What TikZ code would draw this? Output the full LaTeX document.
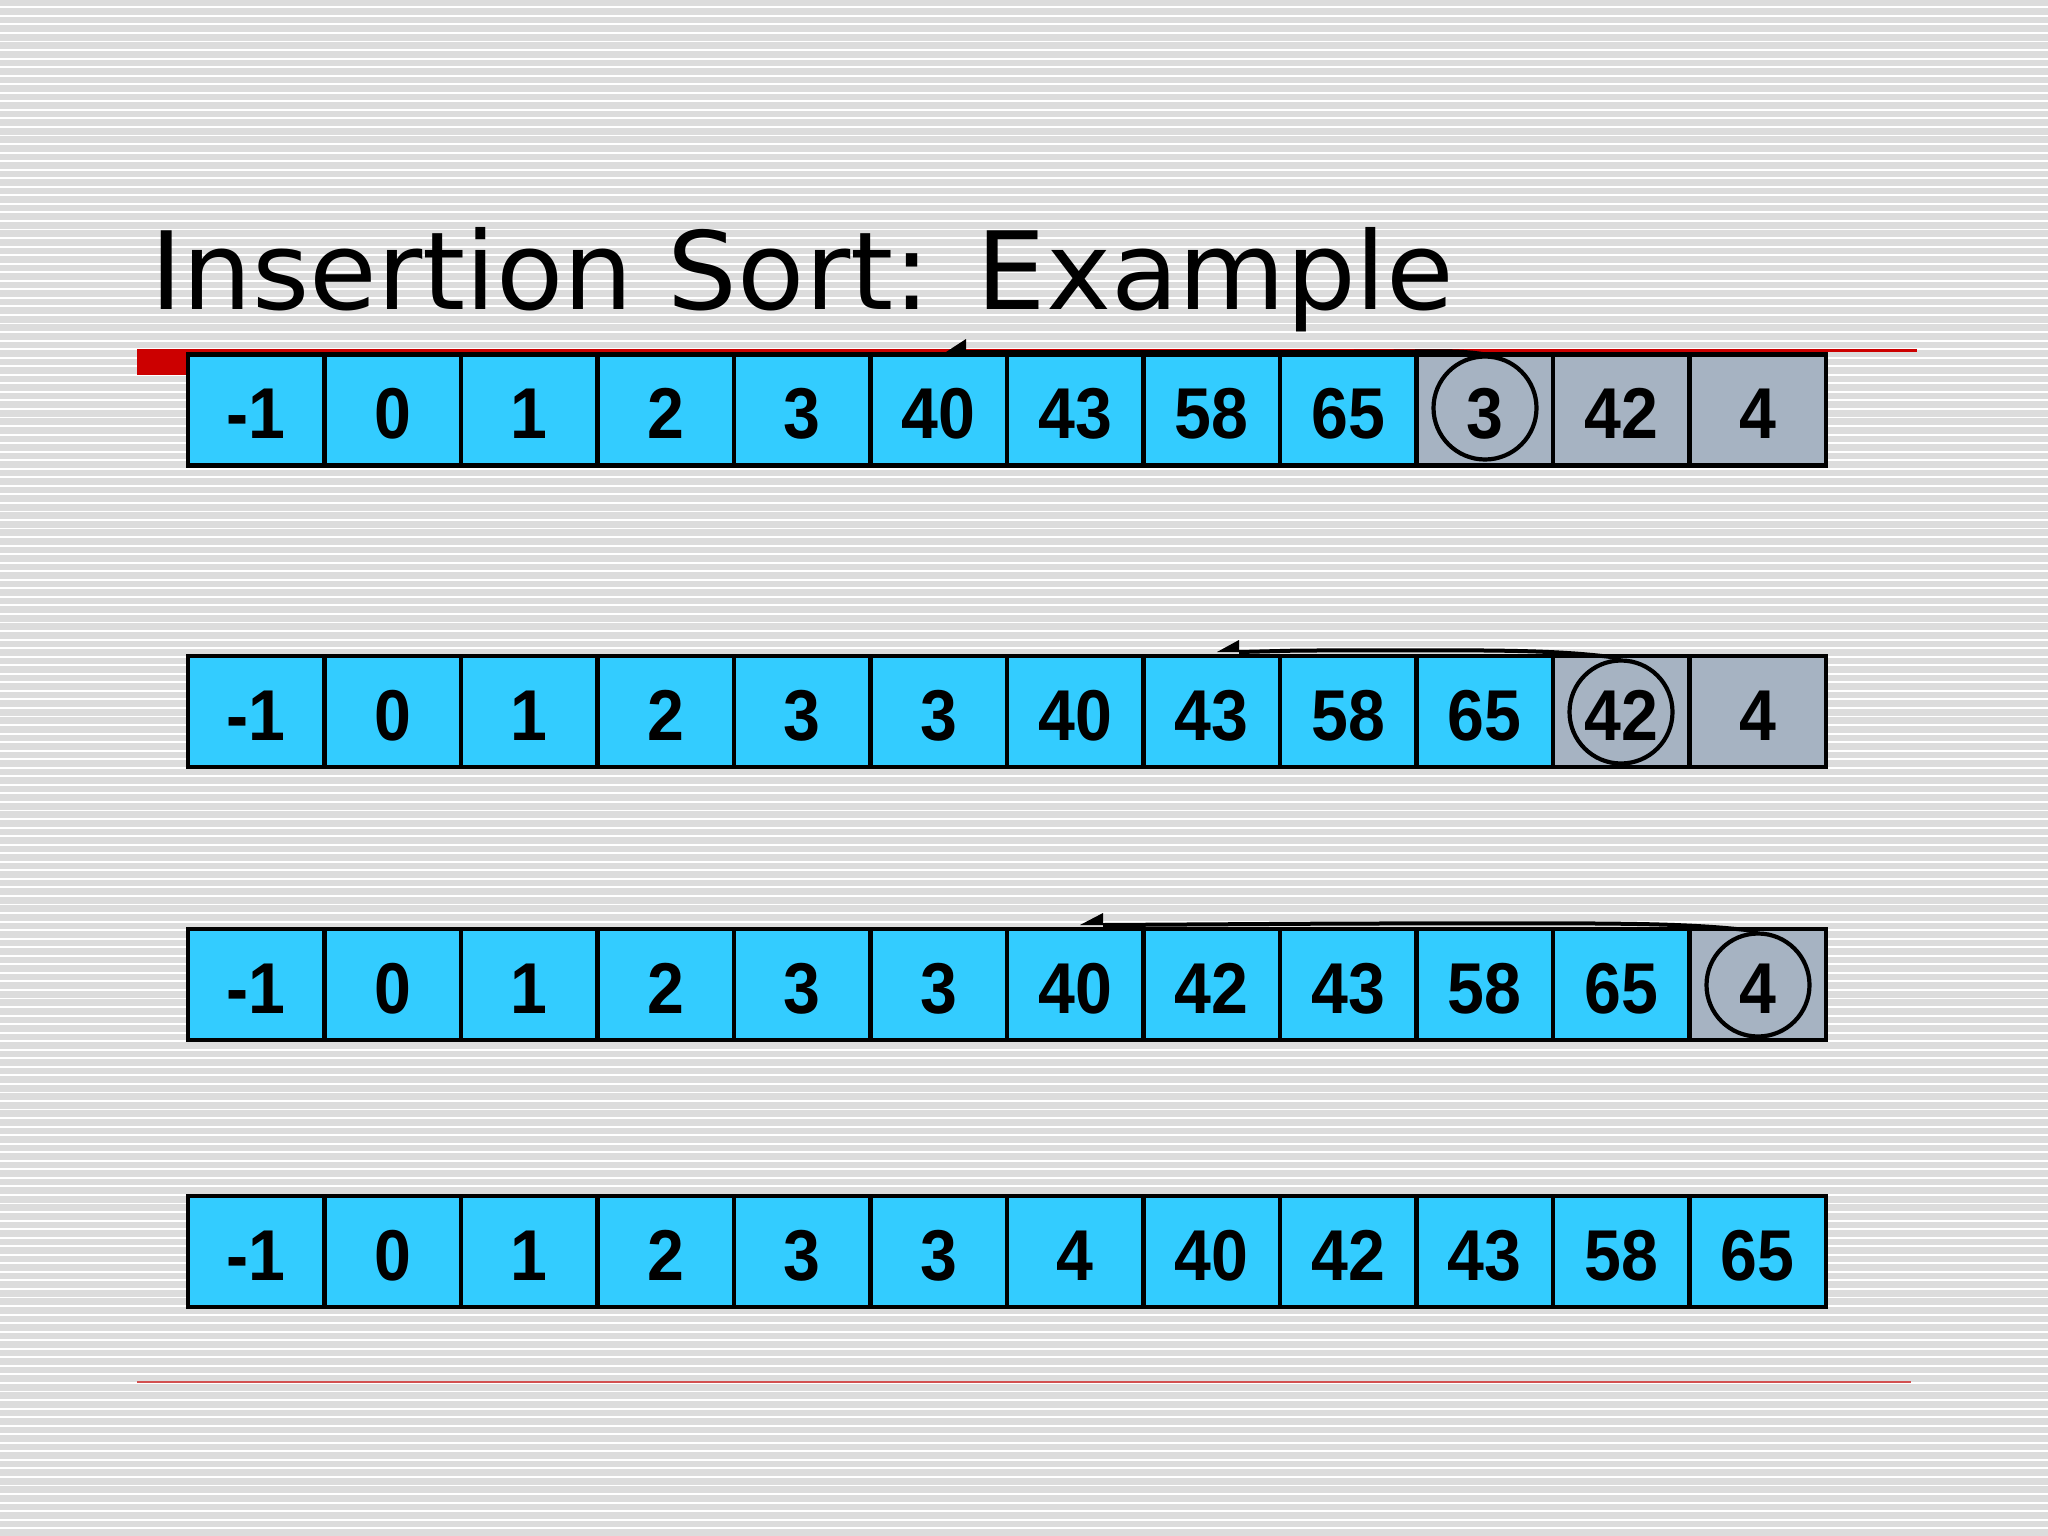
\documentclass[tikz,border=0pt]{standalone}
\usepackage{fontspec}
\setmainfont{Liberation Sans}
\newfontfamily\titlefont{DejaVu Sans}
\definecolor{bgstripe}{RGB}{220,220,220}
\definecolor{cyanfill}{RGB}{51,204,255}
\definecolor{grayfill}{RGB}{166,179,194}
\definecolor{slidered}{RGB}{204,0,0}
\definecolor{thinred}{RGB}{210,80,80}
\tikzset{
  cell/.style={draw=black, line width=4.5pt, minimum width=136.5pt, minimum height=111pt,
    inner sep=0pt, text height=57pt, text depth=0pt, font=\fontsize{72}{80}\selectfont\bfseries},
  cb/.style={fill=cyanfill},
  cg/.style={fill=grayfill},
  ring/.style={draw=black, circle, line width=4.2pt, minimum size=103pt, inner sep=0pt},
  arrowline/.style={draw=black, line width=4pt},
  tiphead/.style={fill=black}
}
\newcommand{\cnum}[1]{\scalebox{0.92}[1]{#1}}
\begin{document}
\begin{tikzpicture}[x=1pt,y=-1pt]
\useasboundingbox (0,0) rectangle (2048,1536);
% striped background
\fill[bgstripe] (0,0) rectangle (2048,1536);
\foreach \k in {0,...,180} \fill[white] (0,{6.4+\k*8.544}) rectangle (2048,{8.3+\k*8.544});
% title
\node[anchor=base west, inner sep=0pt, font=\titlefont\fontsize{108}{120}\selectfont] (title) at (150,309) {\scalebox{1.018}[1]{Insertion Sort: Example}};
% red rules
\fill[slidered] (137,348.5) rectangle (1917,351.5);
\fill[slidered] (137,350) rectangle (190,375);
\draw[thinred, line width=1.8pt] (137,1382) -- (1911,1382);
% rows
\foreach \v/\s [count=\i from 0] in {-1/cb,0/cb,1/cb,2/cb,3/cb,40/cb,43/cb,58/cb,65/cb,3/cg,42/cg,4/cg}
  \node[cell,\s] (ra\i) at ({188+(\i+0.5)*136.5},410) {\cnum{\v}};
\foreach \v/\s [count=\i from 0] in {-1/cb,0/cb,1/cb,2/cb,3/cb,3/cb,40/cb,43/cb,58/cb,65/cb,42/cg,4/cg}
  \node[cell,\s] (rb\i) at ({188+(\i+0.5)*136.5},711.5) {\cnum{\v}};
\foreach \v/\s [count=\i from 0] in {-1/cb,0/cb,1/cb,2/cb,3/cb,3/cb,40/cb,42/cb,43/cb,58/cb,65/cb,4/cg}
  \node[cell,\s] (rc\i) at ({188+(\i+0.5)*136.5},984.5) {\cnum{\v}};
\foreach \v/\s [count=\i from 0] in {-1/cb,0/cb,1/cb,2/cb,3/cb,3/cb,4/cb,40/cb,42/cb,43/cb,58/cb,65/cb}
  \node[cell,\s] (rd\i) at ({188+(\i+0.5)*136.5},1251.5) {\cnum{\v}};
% circles
\node[ring] (c1) at (1485,408) {};
\node[ring] (c2) at (1621,712) {};
\node[ring] (c3) at (1758,985) {};
% arrow ends
\coordinate (a1) at (966,352);
\coordinate (a2) at (1239,652);
\coordinate (a3) at (1103,925);
% arrows
\draw[arrowline] (c1.north) .. controls +(-30,-5) and +(80,0) .. (1350,352) -- (a1);
\fill[tiphead] (a1) -- ++(0,-13) -- ++(-20,13) -- cycle;
\draw[arrowline] (c2.north) .. controls +(-70,-10) and +(180,0) .. (1300,650.5) -- (a2);
\fill[tiphead] (a2) -- ++(0,-12) -- ++(-22,12) -- cycle;
\draw[arrowline] (c3.north) .. controls +(-80,-10) and +(250,0) .. (1350,923.5) -- (a3);
\fill[tiphead] (a3) -- ++(0,-12) -- ++(-23,12) -- cycle;
\end{tikzpicture}
\end{document}
